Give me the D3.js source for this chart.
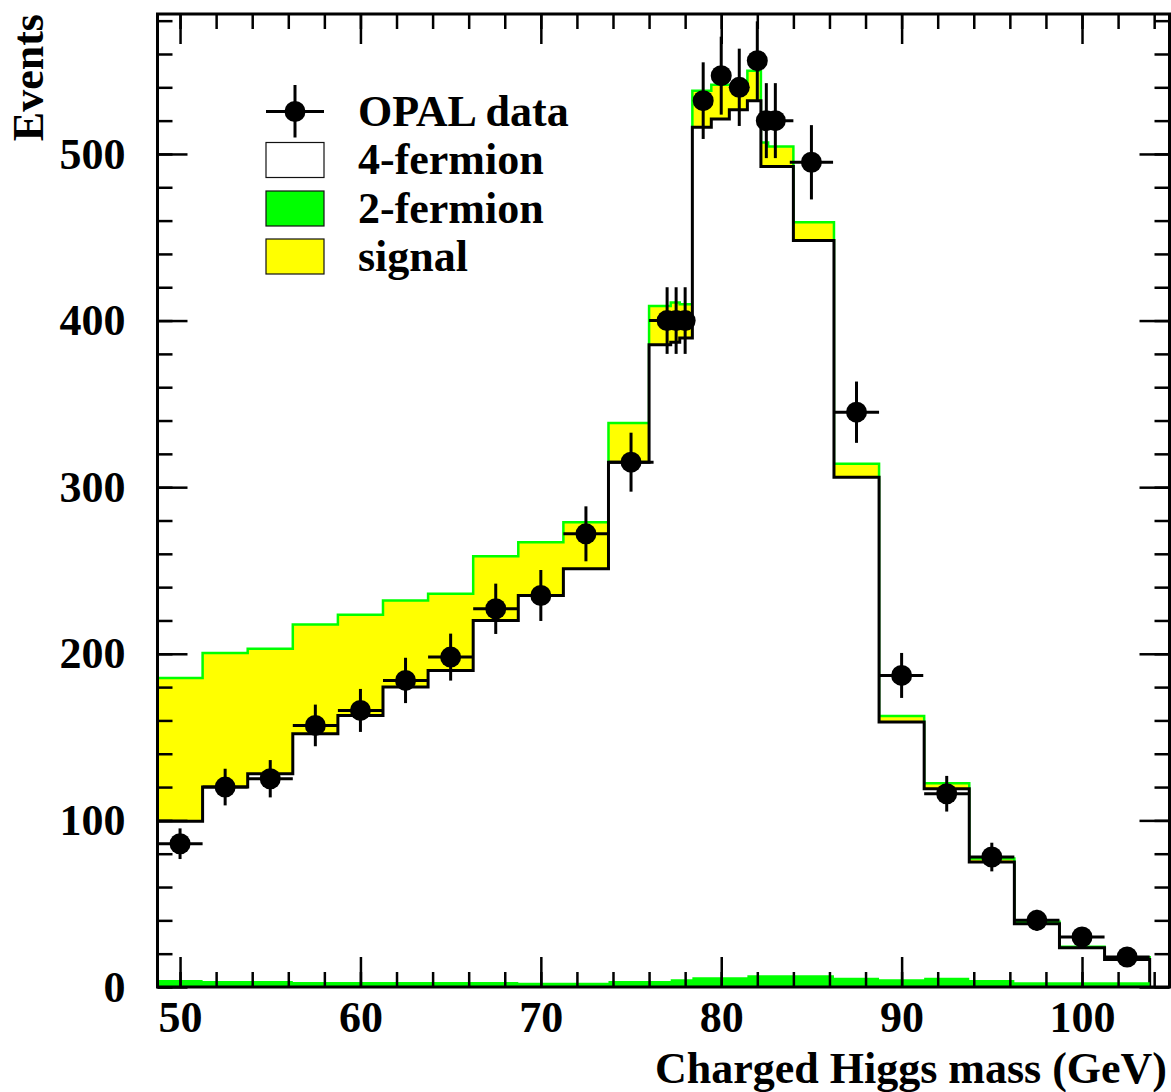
<!DOCTYPE html>
<html>
<head>
<meta charset="utf-8">
<script src="https://cdn.jsdelivr.net/npm/d3@7"></script>
<style>
body { margin: 0; background: #fff; }
text { font-family: "Liberation Serif", "Times New Roman", serif; font-weight: bold; fill: #000; }
</style>
</head>
<body>
<svg id="canvas" width="1171" height="1092"></svg>
<script>
// histogram binning (GeV), finer near the W peak
const binEdges = [48.75, 51.25, 53.75, 56.25, 58.75, 61.25, 63.75, 66.25, 68.75, 71.25,
                  73.75, 76.0, 77.2, 77.7, 78.4, 79.45, 80.45, 81.45, 82.2, 82.6,
                  84.0, 86.25, 88.75, 91.25, 93.75, 96.25, 98.75, 101.25, 103.75];

const twoFermion = [4.2, 3.6, 3.6, 3.0, 3.0, 3.0, 3.0, 3.0, 2.6, 2.6,
                    3.6, 3.6, 4.6, 4.6, 5.8, 5.8, 5.8, 7.0, 7.0, 7.0,
                    7.0, 5.6, 4.6, 5.6, 4.2, 2.8, 2.8, 2.8];
const fourFermion = [95.3, 116.4, 124.4, 149.0, 160.0, 177.0, 187.0, 217.0, 232.4, 248.4,
                     311.4, 381.9, 382.4, 384.9, 510.2, 515.2, 520.7, 525.0, 485.5, 485.5,
                     441.0, 300.4, 154.4, 113.4, 70.8, 35.2, 20.7, 13.7];
const signal = [86.0, 80.5, 75.0, 65.5, 60.5, 52.0, 46.0, 38.5, 32.0, 28.0,
                23.5, 23.3, 23.8, 20.3, 22.0, 20.5, 15.0, 18.0, 14.3, 11.9,
                11.0, 8.0, 3.7, 3.3, 2.2, 1.2, 0.7, 1.3];

// OPAL data points
const dataMass = [50, 52.5, 55, 57.5, 60, 62.5, 65, 67.5, 70, 72.5, 75, 77, 77.5, 78,
                  79, 80, 81, 82, 82.5, 83, 85, 87.5, 90, 92.5, 95, 97.5, 100, 102.5];
const dataEvents = [86, 120, 125, 157, 166, 184, 198, 227, 235, 272, 315, 400, 400, 400,
                    532, 547, 540, 556, 520, 520, 495, 345, 187, 116, 78, 40, 30, 18];
const dataMassErr = [1.25, 1.25, 1.25, 1.25, 1.25, 1.25, 1.25, 1.25, 1.25, 1.25, 1.25, 1.0, 0.5, 0.5,
                     0.5, 0.5, 0.5, 0.5, 0.5, 1.0, 1.2, 1.25, 1.2, 1.25, 1.25, 1.25, 1.25, 1.25];
const dataEventsErr = [9.2, 11, 11.2, 12.5, 12.9, 13.6, 14.1, 15.1, 15.3, 16.5, 17.7, 20, 20, 20,
                       23, 23.4, 23.2, 23.6, 22.5, 22.5, 22.3, 18.4, 13.5, 10.7, 8.6, 6.3, 5.5, 4.2];

const xMajorTicks = [50, 60, 70, 80, 90, 100];
const yMajorTicks = [0, 100, 200, 300, 400, 500];

const legendLabels = ["OPAL data", "4-fermion", "2-fermion", "signal"];

const fontSize = 44;
const plotLeft = 157.5, plotRight = 1169.5, plotTop = 14, plotBottom = 987;

const svg = d3.select("#canvas");

const x = d3.scaleLinear().domain([48.75, 104.85]).range([plotLeft, plotRight]);
const y = d3.scaleLinear().domain([0, 584]).range([plotBottom, plotTop]);

// stack the three contributions bin by bin
const bins = twoFermion.map((v, i) => ({
    x0: binEdges[i], x1: binEdges[i + 1],
    twoF: v, fourF: fourFermion[i], sig: signal[i]
}));
const layers = d3.stack().keys(["twoF", "fourF", "sig"])(bins);

function stepPoints(layer) {
    return layer.flatMap(d => [
        {x: d.data.x0, lo: d[0], hi: d[1]},
        {x: d.data.x1, lo: d[0], hi: d[1]}
    ]);
}

const band = d3.area()
    .x(p => x(p.x))
    .y0(p => y(p.lo))
    .y1(p => y(p.hi));

const outline = d3.line()
    .x(p => x(p.x))
    .y(p => y(p.hi));

function outlinePoints(layer) {
    const pts = stepPoints(layer);
    return [{x: pts[0].x, hi: 0}, ...pts, {x: pts[pts.length - 1].x, hi: 0}];
}

const hist = svg.append("g");

// signal on top
hist.append("path")
    .attr("d", band(stepPoints(layers[2])))
    .attr("fill", "#ffff00");
hist.append("path")
    .attr("d", outline(outlinePoints(layers[2])))
    .attr("fill", "none")
    .attr("stroke", "#00ff00")
    .attr("stroke-width", 2.5);

// 4-fermion
hist.append("path")
    .attr("d", band(stepPoints(layers[1])))
    .attr("fill", "#ffffff");
hist.append("path")
    .attr("d", outline(outlinePoints(layers[1])))
    .attr("fill", "none")
    .attr("stroke", "#000")
    .attr("stroke-width", 3);

// 2-fermion
hist.append("path")
    .attr("d", band(stepPoints(layers[0])))
    .attr("fill", "#00ff00");

// axes, ticks on all four sides
function styleAxis(g) {
    g.attr("font-family", null).attr("font-size", null);
    g.select(".domain").remove();
    g.selectAll(".tick line").attr("stroke", "#000").attr("stroke-width", 2.5);
    g.selectAll(".tick text").style("font-size", fontSize + "px");
}

const xMinorTicks = d3.range(50, 105, 2);
const yMinorTicks = d3.range(0, 584, 20);

svg.append("g")
    .attr("transform", `translate(0,${plotBottom})`)
    .call(d3.axisBottom(x).tickValues(xMajorTicks).tickSizeInner(-30).tickSizeOuter(0).tickPadding(14))
    .call(styleAxis);
svg.append("g")
    .attr("transform", `translate(0,${plotBottom})`)
    .call(d3.axisBottom(x).tickValues(xMinorTicks).tickSizeInner(-15).tickSizeOuter(0).tickFormat(""))
    .call(styleAxis);
svg.append("g")
    .attr("transform", `translate(0,${plotTop})`)
    .call(d3.axisTop(x).tickValues(xMajorTicks).tickSizeInner(-30).tickSizeOuter(0).tickFormat(""))
    .call(styleAxis);
svg.append("g")
    .attr("transform", `translate(0,${plotTop})`)
    .call(d3.axisTop(x).tickValues(xMinorTicks).tickSizeInner(-15).tickSizeOuter(0).tickFormat(""))
    .call(styleAxis);

svg.append("g")
    .attr("transform", `translate(${plotLeft},0)`)
    .call(d3.axisLeft(y).tickValues(yMajorTicks).tickSizeInner(-30).tickSizeOuter(0).tickPadding(32))
    .call(styleAxis);
svg.append("g")
    .attr("transform", `translate(${plotLeft},0)`)
    .call(d3.axisLeft(y).tickValues(yMinorTicks).tickSizeInner(-15).tickSizeOuter(0).tickFormat(""))
    .call(styleAxis);
svg.append("g")
    .attr("transform", `translate(${plotRight},0)`)
    .call(d3.axisRight(y).tickValues(yMajorTicks).tickSizeInner(-30).tickSizeOuter(0).tickFormat(""))
    .call(styleAxis);
svg.append("g")
    .attr("transform", `translate(${plotRight},0)`)
    .call(d3.axisRight(y).tickValues(yMinorTicks).tickSizeInner(-15).tickSizeOuter(0).tickFormat(""))
    .call(styleAxis);

svg.append("rect")
    .attr("x", plotLeft).attr("y", plotTop)
    .attr("width", plotRight - plotLeft).attr("height", plotBottom - plotTop)
    .attr("fill", "none")
    .attr("stroke", "#000")
    .attr("stroke-width", 3);

// data points with error bars
const points = dataMass.map((m, i) => ({
    m: m, n: dataEvents[i], dm: dataMassErr[i], dn: dataEventsErr[i]
}));

const pts = svg.append("g");
pts.selectAll(".xerr")
    .data(points)
    .join("line")
    .attr("class", "xerr")
    .attr("x1", d => x(d.m - d.dm))
    .attr("x2", d => x(d.m + d.dm))
    .attr("y1", d => y(d.n))
    .attr("y2", d => y(d.n))
    .attr("stroke", "#000")
    .attr("stroke-width", 3);
pts.selectAll(".yerr")
    .data(points)
    .join("line")
    .attr("class", "yerr")
    .attr("x1", d => x(d.m))
    .attr("x2", d => x(d.m))
    .attr("y1", d => y(d.n - d.dn))
    .attr("y2", d => y(d.n + d.dn))
    .attr("stroke", "#000")
    .attr("stroke-width", 3);
pts.selectAll("circle")
    .data(points)
    .join("circle")
    .attr("cx", d => x(d.m))
    .attr("cy", d => y(d.n))
    .attr("r", 10.5)
    .attr("fill", "#000");

// axis titles
svg.append("text")
    .attr("x", 1167)
    .attr("y", 1083)
    .attr("text-anchor", "end")
    .style("font-size", fontSize + "px")
    .text("Charged Higgs mass (GeV)");

svg.append("text")
    .attr("transform", "translate(43,14) rotate(-90)")
    .attr("text-anchor", "end")
    .style("font-size", fontSize + "px")
    .text("Events");

// legend
const legend = svg.append("g");
const legendFills = [null, "#ffffff", "#00ff00", "#ffff00"];
const legendRowY = [111.5, 160, 208.5, 256.5];

legend.append("line")
    .attr("x1", 266).attr("x2", 324)
    .attr("y1", legendRowY[0]).attr("y2", legendRowY[0])
    .attr("stroke", "#000").attr("stroke-width", 3);
legend.append("line")
    .attr("x1", 295).attr("x2", 295)
    .attr("y1", 85).attr("y2", 137.5)
    .attr("stroke", "#000").attr("stroke-width", 3);
legend.append("circle")
    .attr("cx", 295).attr("cy", legendRowY[0])
    .attr("r", 10.5).attr("fill", "#000");

legend.selectAll("rect")
    .data(legendFills.slice(1))
    .join("rect")
    .attr("x", 266)
    .attr("y", (d, i) => legendRowY[i + 1] - 17.5)
    .attr("width", 58)
    .attr("height", 35)
    .attr("fill", d => d)
    .attr("stroke", "#111")
    .attr("stroke-width", 1.2);

legend.selectAll("text")
    .data(legendLabels)
    .join("text")
    .attr("x", 358)
    .attr("y", (d, i) => legendRowY[i] + 14)
    .style("font-size", fontSize + "px")
    .text(d => d);
</script>
</body>
</html>
